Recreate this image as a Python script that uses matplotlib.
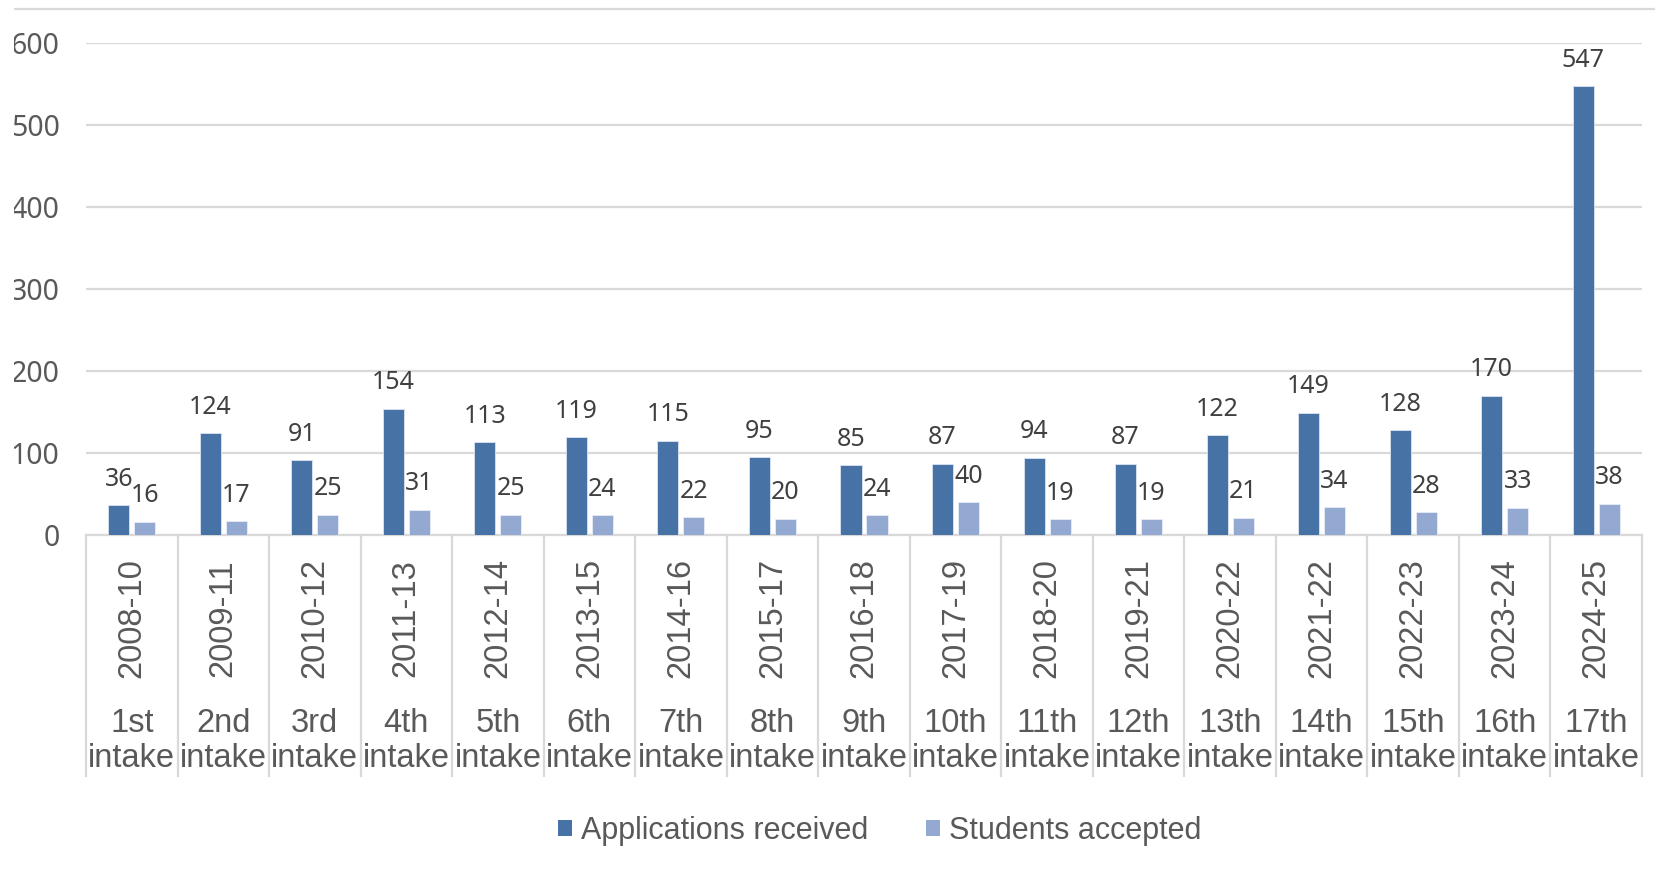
import matplotlib
matplotlib.use("Agg")
import matplotlib.pyplot as plt
from matplotlib.patches import Patch, Rectangle
from matplotlib.lines import Line2D
import numpy as np

# 数据
years = ["2008-10", "2009-11", "2010-12", "2011-13", "2012-14", "2013-15",
         "2014-16", "2015-17", "2016-18", "2017-19", "2018-20", "2019-21",
         "2020-22", "2021-22", "2022-23", "2023-24", "2024-25"]
intakes = ["1st", "2nd", "3rd", "4th", "5th", "6th", "7th", "8th", "9th",
           "10th", "11th", "12th", "13th", "14th", "15th", "16th", "17th"]
applications = [36, 124, 91, 154, 113, 119, 115, 95, 85, 87, 94, 87, 122, 149, 128, 170, 547]
accepted = [16, 17, 25, 31, 25, 24, 22, 20, 24, 40, 19, 19, 21, 34, 28, 33, 38]

dark = "#4672A6"
light = "#93A9D1"
grid_c = "#D9D9D9"
W, H = 1656, 893

fig = plt.figure(figsize=(W / 100, H / 100), dpi=100)
ax = fig.add_axes([86 / W, 1 - 535 / H, (1642 - 86) / W, (535 - 43) / H])

x = np.arange(len(years))
bw = 0.23
off = 0.142
b1 = ax.bar(x - off, applications, bw, color=dark, edgecolor="#DCE4F0", linewidth=0.6, zorder=3)
b2 = ax.bar(x + off, accepted, bw, color=light, edgecolor="#E8EDF6", linewidth=0.6, zorder=3)

# 数据标签
for bars, vals in [(b1, applications), (b2, accepted)]:
    for r, v in zip(bars, vals):
        ax.annotate(str(v), (r.get_x() + r.get_width() / 2, v), xytext=(0, 14),
                    textcoords="offset points", ha="center", va="baseline",
                    fontsize=18, family="Noto Sans", color="#404040", zorder=4)

ax.set_xlim(-0.5, len(years) - 0.5)
ax.set_ylim(0, 600)
ax.set_yticks(range(0, 601, 100))
ax.yaxis.grid(True, color=grid_c, linewidth=1.6, zorder=0)
ax.tick_params(axis="y", length=0, pad=19, labelsize=20.5, labelcolor="#595959")
for lab in ax.get_yticklabels():
    lab.set_family("Noto Sans")
ax.set_xticks([])
for s in ["top", "right", "left"]:
    ax.spines[s].set_visible(False)
ax.spines["bottom"].set_color(grid_c)
ax.spines["bottom"].set_linewidth(1.6)

# 多级分类轴
tr = ax.get_xaxis_transform()
sep_bottom = -(776 - 535) / 492
for b in np.arange(-0.5, len(years), 1.0):
    ax.plot([b, b], [0, sep_bottom], transform=tr, color=grid_c, lw=1.6, clip_on=False)
for i in range(len(years)):
    ax.text(i, -(618 - 535) / 492, years[i], transform=tr, rotation=90, ha="center",
            va="center", fontsize=23.5, family="Liberation Sans", color="#595959")
    ax.text(i, -(741 - 535) / 492, intakes[i] + "\nintake", transform=tr, ha="center",
            va="center", fontsize=23.5, family="Liberation Sans", color="#595959",
            linespacing=1.17)

# 图例
handles = [Patch(facecolor=dark, edgecolor="none"), Patch(facecolor=light, edgecolor="none")]
fig.legend(handles, ["Applications received", "Students accepted"], loc="center",
           bbox_to_anchor=(880 / W, 1 - 831 / H), ncol=2, frameon=False,
           prop={"family": "Liberation Sans", "size": 22}, labelcolor="#595959",
           handlelength=0.45, handleheight=0.45, handletextpad=0.3, columnspacing=1.9)

# 顶部边线与左侧裁切
fig.add_artist(Line2D([14 / W, 1], [1 - 9 / H, 1 - 9 / H], transform=fig.transFigure,
                      color=grid_c, lw=1.6))
fig.add_artist(Rectangle((0, 0), 14 / W, 1, transform=fig.transFigure,
                         facecolor="white", edgecolor="none", zorder=10))

fig.savefig("out.png", dpi=100)
